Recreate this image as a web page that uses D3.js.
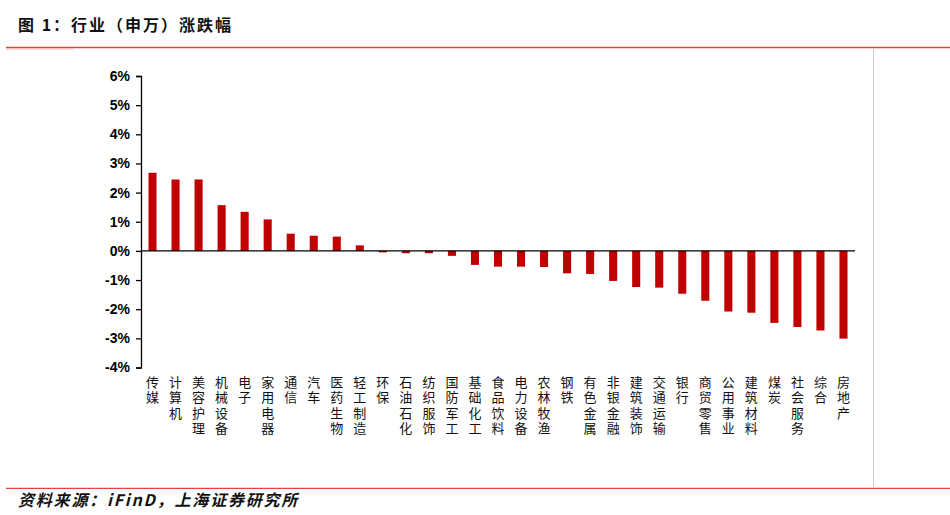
<!DOCTYPE html>
<html>
<head>
<meta charset="utf-8">
<script src="https://cdn.jsdelivr.net/npm/d3@7"></script>
<style>
  html, body { margin: 0; padding: 0; background: #fff; }
  svg { display: block; }
</style>
</head>
<body>
<svg id="chart" width="950" height="515"></svg>
<script>
const categories = ["传媒","计算机","美容护理","机械设备","电子","家用电器","通信","汽车","医药生物","轻工制造","环保","石油石化","纺织服饰","国防军工","基础化工","食品饮料","电力设备","农林牧渔","钢铁","有色金属","非银金融","建筑装饰","交通运输","银行","商贸零售","公用事业","建筑材料","煤炭","社会服务","综合","房地产"];
const changes = [2.68, 2.45, 2.45, 1.57, 1.34, 1.08, 0.59, 0.52, 0.49, 0.19, -0.05, -0.08, -0.08, -0.17, -0.48, -0.54, -0.54, -0.55, -0.77, -0.79, -1.03, -1.24, -1.26, -1.47, -1.71, -2.08, -2.12, -2.47, -2.61, -2.73, -3.01];
const yTicks = [-4, -3, -2, -1, 0, 1, 2, 3, 4, 5, 6];
const titleText = "图 1：行业（申万）涨跌幅";
const sourceText = "资料来源：iFinD，上海证券研究所";

const svg = d3.select("#chart");
const cjk = "'Noto Sans CJK SC', 'Noto Sans', sans-serif";
const latin = "'Liberation Sans', Arial, sans-serif";

// Frame lines
svg.append("line").attr("x1", 6).attr("x2", 950).attr("y1", 47.5).attr("y2", 47.5)
  .attr("stroke", "#e8403f").attr("stroke-width", 1.3);
svg.append("line").attr("x1", 6).attr("x2", 73).attr("y1", 49).attr("y2", 49)
  .attr("stroke", "#f6b0b0").attr("stroke-width", 1.2);
svg.append("line").attr("x1", 6).attr("x2", 950).attr("y1", 488.3).attr("y2", 488.3)
  .attr("stroke", "#e8403f").attr("stroke-width", 1.3);
svg.append("line").attr("x1", 873.5).attr("x2", 873.5).attr("y1", 48.5).attr("y2", 487.5)
  .attr("stroke", "#cfcfcf").attr("stroke-width", 1);

// Title
svg.append("text").attr("x", 18).attr("y", 31)
  .attr("font-family", cjk).attr("font-weight", "bold").attr("font-size", 16)
  .attr("letter-spacing", 2).attr("fill", "#111")
  .text(titleText);

// Source
svg.append("text").attr("x", 18).attr("y", 506)
  .attr("font-family", cjk).attr("font-weight", "bold").attr("font-style", "italic")
  .attr("font-size", 16).attr("letter-spacing", 1.8).attr("fill", "#111")
  .text(sourceText);

// Scales
const x = d3.scaleBand().domain(categories).range([141, 855])
  .paddingInner(0.65).paddingOuter(0.325);
const y = d3.scaleLinear().domain([-4, 6]).range([367.5, 76]);

// Bars
svg.append("g").selectAll("rect").data(categories).join("rect")
  .attr("x", d => x(d))
  .attr("width", x.bandwidth())
  .attr("y", (d, i) => y(Math.max(0, changes[i])))
  .attr("height", (d, i) => Math.abs(y(changes[i]) - y(0)))
  .attr("fill", "#c00000");

// Y axis
const yAxis = d3.axisLeft(y).tickValues(yTicks).tickSize(5).tickPadding(6)
  .tickFormat(d => d + "%");
const gy = svg.append("g").attr("transform", "translate(141,0)").call(yAxis);
gy.select(".domain").attr("stroke", "#000").attr("stroke-width", 1.3);
gy.selectAll(".tick line").attr("stroke", "#000").attr("stroke-width", 1.3);
gy.selectAll(".tick text").attr("font-family", latin).attr("font-weight", "bold")
  .attr("font-size", 14).attr("fill", "#000");

// Zero line
svg.append("line").attr("x1", 141).attr("x2", 855).attr("y1", y(0)).attr("y2", y(0))
  .attr("stroke", "#000").attr("stroke-width", 1.3);

// X labels (vertical, upright characters)
const lab = svg.append("g").selectAll("text").data(categories).join("text")
  .attr("font-family", cjk).attr("font-size", 13).attr("fill", "#111")
  .attr("text-anchor", "middle");
lab.each(function(d) {
  const t = d3.select(this);
  const cx = x(d) + x.bandwidth() / 2;
  Array.from(d).forEach((ch, k) => {
    t.append("tspan").attr("x", cx).attr("y", 387 + k * 15.3).text(ch);
  });
});
</script>
</body>
</html>
